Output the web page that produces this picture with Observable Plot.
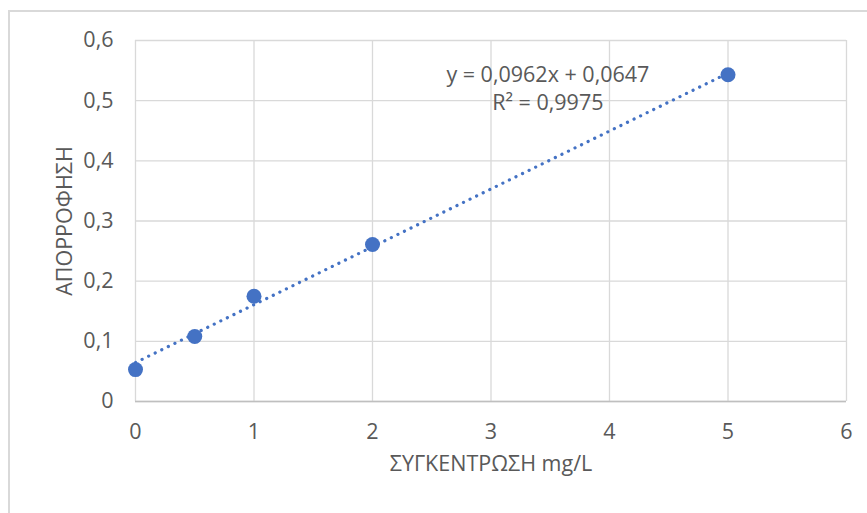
<!DOCTYPE html>
<html>
<head>
<meta charset="utf-8">
<script src="https://cdn.jsdelivr.net/npm/d3@7"></script>
<script src="https://cdn.jsdelivr.net/npm/@observablehq/plot@0.6"></script>
<style>
  html, body { margin: 0; padding: 0; background: #fff; }
  #wrap { position: relative; width: 867px; height: 513px; overflow: hidden; }
  #border { position: absolute; left: 8px; top: 10px; width: 900px; height: 600px; border: 2px solid #D9D9D9; box-sizing: border-box; }
  #chart { position: absolute; left: 0; top: 0; }
</style>
</head>
<body>
<div id="wrap"><div id="border"></div><div id="chart"></div></div>
<script>
// Data
const concentration = [0, 0.5, 1, 2, 5];          // ΣΥΓΚΕΝΤΡΩΣΗ mg/L
const absorbance = [0.053, 0.108, 0.175, 0.261, 0.543]; // ΑΠΟΡΡΟΦΗΣΗ
const xTicks = [0, 1, 2, 3, 4, 5, 6];
const yTicks = [0, 0.1, 0.2, 0.3, 0.4, 0.5, 0.6];
// Trendline as printed in the chart
const trendSlope = 0.0962;
const trendIntercept = 0.0647;
const trendX = [0, 5];
const equationLines = ["y = 0,0962x + 0,0647", "R² = 0,9975"];
const equationAnchor = {x: 3.48, y: 0.540};

const points = concentration.map((x, i) => ({x, y: absorbance[i]}));
const trend = trendX.map(x => ({x, y: trendSlope * x + trendIntercept}));
const fmtY = d => d === 0 ? "0" : d3.format(".1f")(d).replace(".", ",");
const fmtX = d3.format("d");
const blue = "#4472C4";
const font = "'Open Sans', sans-serif";
const fs = 21.5;

const chart = Plot.plot({
  width: 867,
  height: 513,
  marginLeft: 135,
  marginRight: 21,
  marginTop: 40,
  marginBottom: 112,
  style: {fontFamily: font, fontSize: fs + "px", color: "#595959", background: "transparent", overflow: "visible"},
  x: {domain: [0, 6]},
  y: {domain: [0, 0.6]},
  marks: [
    Plot.gridX(xTicks, {stroke: "#D9D9D9", strokeOpacity: 1, strokeWidth: 1.3}),
    Plot.gridY(yTicks, {stroke: "#D9D9D9", strokeOpacity: 1, strokeWidth: 1.3}),
    Plot.ruleY([0], {stroke: "#BFBFBF", strokeWidth: 1.3}),
    Plot.axisX(xTicks, {tickSize: 0, tickPadding: 22, tickFormat: fmtX, fill: "#595959", fontSize: fs, label: null}),
    Plot.axisY(yTicks, {tickSize: 0, tickPadding: 22, tickFormat: fmtY, fill: "#595959", fontSize: fs, label: null}),
    Plot.line(trend, {x: "x", y: "y", stroke: blue, strokeWidth: 3.2, strokeDasharray: "0.1 7.2", strokeLinecap: "round"}),
    Plot.dot(points, {x: "x", y: "y", r: 7.5, fill: blue, stroke: "none"}),
    Plot.text([equationLines.join("\n")], {x: equationAnchor.x, y: equationAnchor.y, lineHeight: 1.3, fill: "#595959", fontSize: fs, textAnchor: "middle", lineAnchor: "top", dy: -14}),
    Plot.text(["ΣΥΓΚΕΝΤΡΩΣΗ mg/L"], {frameAnchor: "bottom", dy: 69, fill: "#595959", fontSize: fs}),
    Plot.text(["ΑΠΟΡΡΟΦΗΣΗ"], {frameAnchor: "left", dx: -70, rotate: -90, textAnchor: "middle", fill: "#595959", fontSize: fs})
  ]
});
document.getElementById("chart").appendChild(chart);
</script>
</body>
</html>
